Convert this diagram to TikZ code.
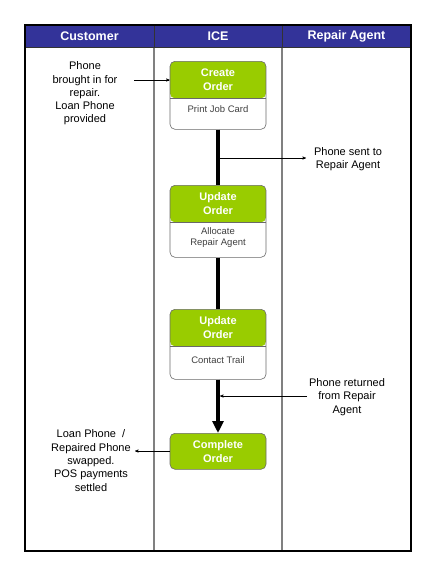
\documentclass[tikz,border=0pt]{standalone}
\usepackage{fontspec}
\setmainfont{Liberation Sans}
\usepackage{tikz}
\usetikzlibrary{arrows,arrows.meta}
\definecolor{iceblue}{RGB}{51,51,153}
\definecolor{icegreen}{RGB}{153,204,0}
\definecolor{boxgray}{RGB}{105,105,105}
\definecolor{lanegray}{RGB}{128,128,128}

\begin{document}
\begin{tikzpicture}[>=stealth',x=1pt,y=-1pt,semithick]
  \tikzstyle{lane}=[draw=lanegray,line width=1.2pt]
  \tikzstyle{lanename}=[text=white,font=\bfseries\fontsize{12.5}{15}\selectfont]
  \tikzstyle{box}=[draw=boxgray,rounded corners=5pt,minimum width=96pt,inner sep=0pt,anchor=north]
  \tikzstyle{task}=[box,fill=white,path picture={
      \fill[icegreen] (path picture bounding box.north west) rectangle ([yshift=-37pt]path picture bounding box.north east);
      \draw[boxgray] ([yshift=-37pt]path picture bounding box.north west) -- ([yshift=-37pt]path picture bounding box.north east);}]
  \tikzstyle{done}=[box,fill=icegreen]
  \tikzstyle{tasktitle}=[text=white,align=center,font=\bfseries\fontsize{11}{14}\selectfont]
  \tikzstyle{taskdesc}=[text=black!75,align=center,font=\fontsize{9.5}{11.5}\selectfont]
  \tikzstyle{note}=[align=center,font=\fontsize{11}{13.3}\selectfont]
  \tikzstyle{flow}=[line width=4pt]
  \tikzstyle{msg}=[->,thin]

  \useasboundingbox (0,0) rectangle (432,576);

  % swim lanes
  \fill[iceblue] (25,25) rectangle (411,47.5);
  \draw[lane] (154,47.5) -- (154,551);
  \draw[lane] (282,47.5) -- (282,551);
  \draw[black!80,thick] (154,25) -- (154,47.5) (282,25) -- (282,47.5);
  \draw[black!80,thick] (25,47.5) -- (411,47.5);
  \draw[line width=2pt] (25,25) rectangle (411,551);

  \node[lanename] (CU) at (89.5,36.5) {Customer};
  \node[lanename] (IC) at (218,36.5) {ICE};
  \node[lanename] (RA) at (346.5,36.5) {Repair Agent};

  % order steps
  \node[task,minimum height=68pt] (CO) at (218,61) {};
  \node[tasktitle] (COt) at ([yshift=-18.5pt]CO.north) {Create\\Order};
  \node[taskdesc] (COd) at ([yshift=20pt]CO.south) {Print Job Card};

  \node[task,minimum height=72pt] (UA) at (218,185) {};
  \node[tasktitle] (UAt) at ([yshift=-18.5pt]UA.north) {Update\\Order};
  \node[taskdesc] (UAd) at ([yshift=20pt]UA.south) {Allocate\\Repair Agent};

  \node[task,minimum height=70pt] (UC) at (218,309) {};
  \node[tasktitle] (UCt) at ([yshift=-18.5pt]UC.north) {Update\\Order};
  \node[taskdesc] (UCd) at ([yshift=20pt]UC.south) {Contact Trail};

  \node[done,tasktitle,minimum height=36pt] (CP) at (218,433) {Complete\\Order};

  \draw[flow] (CO) -- (UA);
  \draw[flow] (UA) -- (UC);
  \draw[flow,-{Triangle[length=12pt,width=11pt]}] (UC) -- (CP);

  % messages
  \node[note] (PB) at (85,93.5) {Phone\\brought in for\\repair.\\Loan Phone\\provided};
  \coordinate (PBa) at (134,80);
  \draw[msg] (PBa) -- (PBa -| CO.west);

  \node[note] (PS) at (348,159) {Phone sent to\\Repair Agent};
  \coordinate (PSa) at (218,158);
  \coordinate (PSb) at (306,158);
  \draw[msg] (PSa) -- (PSb);

  \node[note] (PR) at (347,397) {Phone returned\\from Repair\\Agent};
  \coordinate (PRa) at (307,396);
  \coordinate (PRb) at (220,396);
  \draw[msg] (PRa) -- (PRb);

  \node[note] (LP) at (91,460.5) {Loan Phone \ /\\Repaired Phone\\swapped.\\POS payments\\settled};
  \coordinate (LPa) at (135,451);
  \draw[msg] (LPa -| CP.west) -- (LPa);
\end{tikzpicture}
\end{document}
